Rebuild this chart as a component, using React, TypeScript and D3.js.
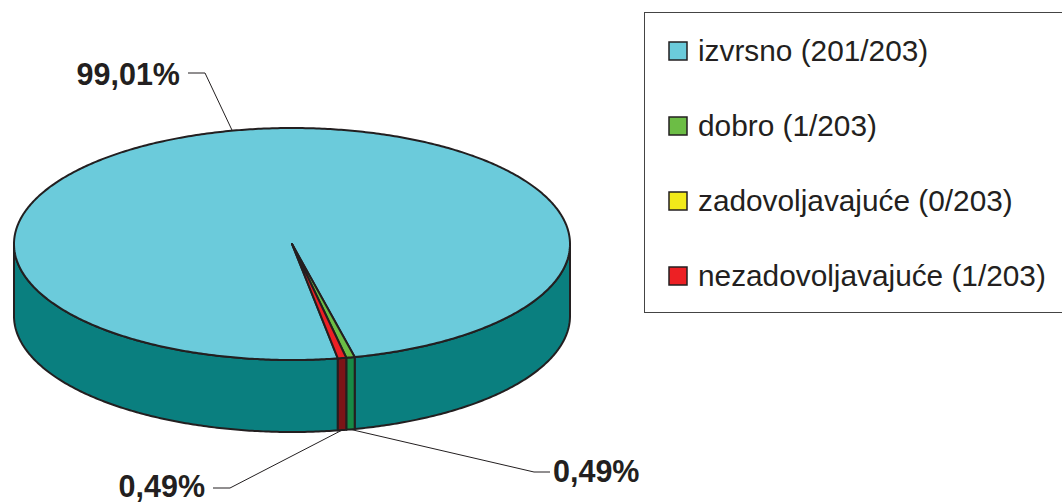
import React from 'react';
import * as d3 from 'd3';

// data
const categories = ['izvrsno', 'dobro', 'zadovoljavajuće', 'nezadovoljavajuće'];
const counts = [201, 1, 0, 1];
const total = 203;
const topColors = ['#6bcbdb', '#6cbd45', '#f2ea1a', '#ed2024'];
const sideColors = ['#0a7f7f', '#178a45', '#8c8612', '#7c1517'];

const W = 1062, H = 502;
const cx = 292, cy = 244, rx = 278, ry = 116, depth = 72;
const startAngle = 2.976;
const ink = '#231f20';
const fontFamily = '"Liberation Sans", Arial, Helvetica, sans-serif';

// ellipse point for a pie angle (clockwise from 12 o'clock)
const rim = (a: number, dy = 0): [number, number] => [cx + rx * Math.sin(a), cy - ry * Math.cos(a) + dy];

const arcPoints = (a0: number, a1: number, dy = 0) => {
  const n = Math.max(2, Math.ceil(Math.abs(a1 - a0) / 0.01));
  return d3.range(n + 1).map((i) => rim(a0 + ((a1 - a0) * i) / n, dy));
};

const line = d3.line();

const fmt = (v: number) => (v * 100).toFixed(2).replace('.', ',') + '%';

export default function App() {
  const pie = d3
    .pie<number>()
    .sort(null)
    .value((d) => d)
    .startAngle(startAngle)
    .endAngle(startAngle + 2 * Math.PI);
  const arcs = pie(counts);

  // front-facing wall segments
  const walls: { i: number; d: string }[] = [];
  arcs.forEach((a, i) => {
    if (a.endAngle - a.startAngle <= 0) return;
    for (let k = -1; k <= 1; k++) {
      const lo = Math.max(a.startAngle, Math.PI / 2 + 2 * Math.PI * k);
      const hi = Math.min(a.endAngle, (3 * Math.PI) / 2 + 2 * Math.PI * k);
      if (hi > lo) {
        const pts = [...arcPoints(lo, hi), ...arcPoints(hi, lo, depth)];
        walls.push({ i, d: line(pts) + 'Z' });
      }
    }
  });

  const tops = arcs
    .map((a, i) => ({ a, i }))
    .filter(({ a }) => a.endAngle > a.startAngle)
    .map(({ a, i }) => ({ i, d: line([[cx, cy], ...arcPoints(a.startAngle, a.endAngle)]) + 'Z' }));

  const mid = (a: d3.PieArcDatum<number>) => (a.startAngle + a.endAngle) / 2;

  // data labels: slice index, leader elbow and end, text position
  const labels: { i: number; from: [number, number]; elbow: [number, number]; end: [number, number]; tx: number; ty: number; anchor: string }[] = [
    { i: 0, from: rim(mid(arcs[0]) - 0.02), elbow: [205, 73], end: [188, 73], tx: 180, ty: 85, anchor: 'end' },
    { i: 1, from: rim(mid(arcs[1]), depth), elbow: [534, 472], end: [550, 472], tx: 553, ty: 482, anchor: 'start' },
    { i: 3, from: rim(mid(arcs[3]), depth), elbow: [230, 488], end: [213, 488], tx: 205, ty: 497, anchor: 'end' },
  ];

  const legendY = d3.scalePoint<string>().domain(categories).range([51, 276]);

  return (
    <svg width={W} height={H} style={{ position: 'absolute', left: 0, top: 0, background: '#fff' }}>
      <g strokeLinejoin="round">
        {walls.map((w, k) => (
          <path key={'w' + k} d={w.d} fill={sideColors[w.i]} stroke={ink} strokeWidth={2} />
        ))}
        {tops.map((t) => (
          <path key={'t' + t.i} d={t.d} fill={topColors[t.i]} stroke={ink} strokeWidth={2} />
        ))}
      </g>
      {labels.map((l) => (
        <g key={'l' + l.i}>
          <polyline points={[l.from, l.elbow, l.end].map((p) => p.join(',')).join(' ')} fill="none" stroke={ink} strokeWidth={1} />
          <text x={l.tx} y={l.ty} textAnchor={l.anchor} fontFamily={fontFamily} fontWeight="bold" fontSize={30.5} fill={ink}>
            {fmt(counts[l.i] / total)}
          </text>
        </g>
      ))}
      <rect x={644.5} y={12.5} width={440} height={300} fill="#fff" stroke="#444" strokeWidth={1} />
      {categories.map((c, i) => (
        <g key={'lg' + i} transform={`translate(0,${legendY(c)})`}>
          <rect x={669} y={-9} width={18} height={18} fill={topColors[i]} stroke={ink} strokeWidth={1.5} />
          <text x={698} y={10} fontFamily={fontFamily} fontSize={29.8} fill={ink}>
            {`${c} (${counts[i]}/${total})`}
          </text>
        </g>
      ))}
    </svg>
  );
}
